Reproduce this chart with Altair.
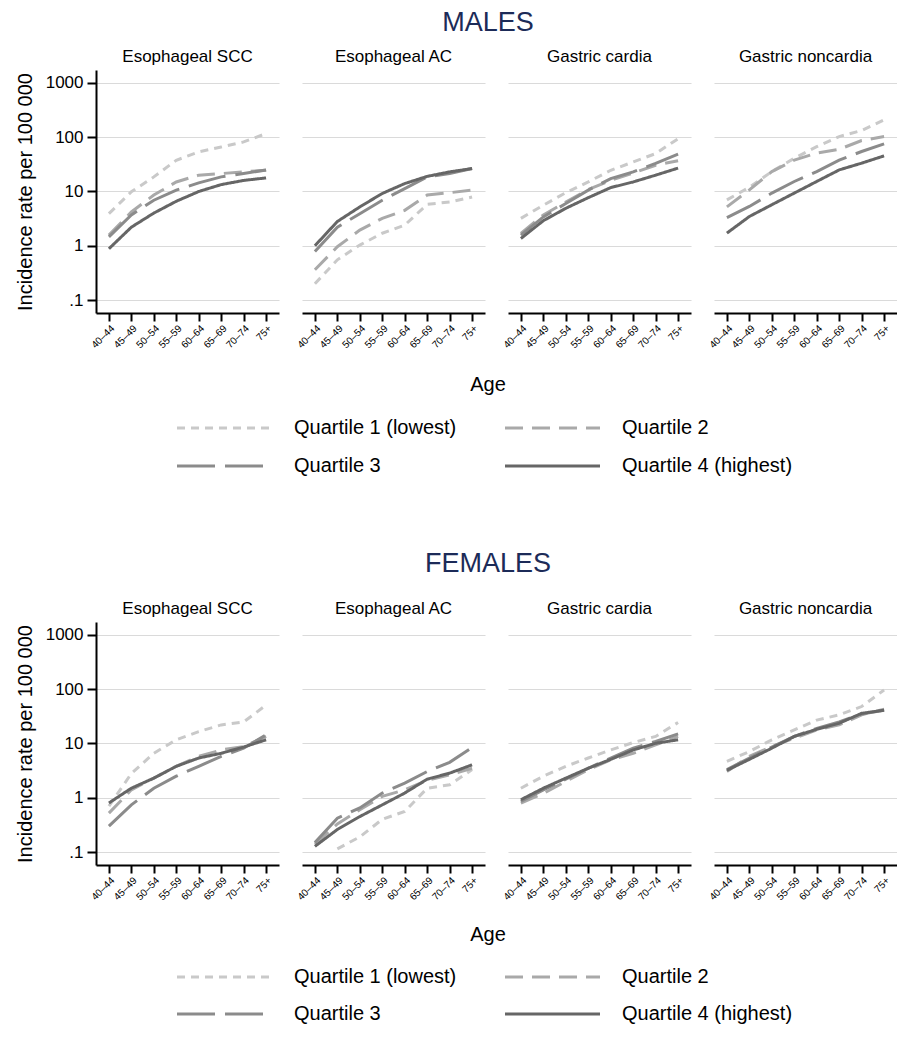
import altair as alt
import pandas as pd

FONT = "Liberation Sans"
NAVY = "#1c2b58"

ages = ["40–44", "45–49", "50–54", "55–59", "60–64", "65–69", "70–74", "75+"]
quartiles = ["Quartile 1 (lowest)", "Quartile 2", "Quartile 3", "Quartile 4 (highest)"]
sites = ["Esophageal SCC", "Esophageal AC", "Gastric cardia", "Gastric noncardia"]
section_titles = ["MALES", "FEMALES"]
y_ticks = [0.1, 1, 10, 100, 1000]

# rows: quartile 1..4, columns: age groups
male_esoph_scc = [
    [3.9, 9.9, 18.6, 37.7, 53.7, 66, 82, 117],
    [1.57, 4.2, 8.6, 15, 20, 21.4, 23, 24.7],
    [1.46, 3.7, 6.9, 10.6, 14.4, 18.6, 21.4, 25],
    [0.88, 2.2, 4.0, 6.6, 10.0, 13.4, 16.0, 17.8],
]
male_esoph_ac = [
    [0.2, 0.55, 1.03, 1.7, 2.4, 5.8, 6.4, 7.9],
    [0.36, 0.96, 1.94, 3.2, 4.5, 8.6, 9.5, 10.6],
    [0.78, 2.2, 3.9, 6.9, 11.3, 18.6, 21.4, 26.5],
    [1.0, 2.8, 5.2, 9.2, 14, 19, 23, 26.5],
]
male_gastric_cardia = [
    [3.2, 5.6, 9.5, 15, 24.6, 35, 50, 94],
    [1.69, 3.7, 6.4, 10.9, 16, 22, 30.5, 37],
    [1.57, 3.4, 6.0, 10.6, 17.3, 23, 33, 48.7],
    [1.36, 2.9, 4.9, 7.7, 11.8, 15, 20, 27],
]
male_gastric_noncardia = [
    [7.0, 12, 23.3, 41, 67, 103, 133, 209],
    [5.2, 10.7, 23.3, 38, 51, 60, 87, 103],
    [3.3, 5.3, 9.35, 15.3, 23.3, 38, 54.6, 75.5],
    [1.71, 3.46, 5.7, 9.35, 15.3, 25, 33.3, 45.4],
]
female_esoph_scc = [
    [0.7, 2.8, 6.6, 11.7, 16.6, 22, 25, 51],
    [0.52, 1.4, 2.3, 3.8, 5.8, 7.6, 8.8, 13.5],
    [0.3, 0.74, 1.5, 2.5, 3.8, 5.8, 8.2, 14.4],
    [0.8, 1.5, 2.3, 3.8, 5.4, 6.6, 8.6, 11.7],
]
female_esoph_ac = [
    [None, 0.114, 0.19, 0.4, 0.56, 1.5, 1.73, 3.3],
    [0.14, 0.33, 0.6, 1.06, 1.4, 2.1, 2.65, 3.5],
    [0.15, 0.42, 0.65, 1.22, 1.86, 3.05, 4.5, 8.4],
    [0.127, 0.26, 0.45, 0.74, 1.22, 2.2, 2.84, 4.05],
]
female_gastric_cardia = [
    [1.5, 2.5, 3.8, 5.4, 7.6, 10.4, 13.5, 24.4],
    [0.8, 1.2, 2.0, 3.3, 5.0, 6.6, 9.4, 13.5],
    [0.86, 1.4, 2.2, 3.5, 5.4, 8.2, 10.9, 15],
    [0.92, 1.5, 2.3, 3.5, 5.1, 7.6, 10.1, 11.7],
]
female_gastric_noncardia = [
    [4.7, 7.1, 11.7, 17.8, 27, 33.7, 48, 97],
    [3.05, 5.8, 8.8, 12.5, 17.8, 22, 33.7, 43],
    [3.3, 5.4, 8.6, 13.5, 19, 25, 35, 41],
    [3.2, 5.1, 8.2, 13.5, 18.3, 23.6, 36, 41],
]

male_panels = [male_esoph_scc, male_esoph_ac, male_gastric_cardia, male_gastric_noncardia]
female_panels = [female_esoph_scc, female_esoph_ac, female_gastric_cardia, female_gastric_noncardia]

# styles
COLORS = ["#c9c9c9", "#a9a9a9", "#8b8b8b", "#666666"]
DASHES = [[8, 6], [18, 9], [38, 10], [1, 0]]
PW, PH, GAP = 183, 243, 23
TOTAL_W = 4 * PW + 3 * GAP
CENTER_X = 392

color_enc = alt.Color("quartile:N", scale=alt.Scale(domain=quartiles, range=COLORS), legend=None)
dash_enc = alt.StrokeDash("quartile:N", scale=alt.Scale(domain=quartiles, range=DASHES), legend=None)


def panel(site, values, first):
    rows = []
    for qi, q in enumerate(quartiles):
        for ai, a in enumerate(ages):
            rows.append({"quartile": q, "qorder": qi, "age": a, "rate": values[qi][ai]})
    df = pd.DataFrame(rows)
    if first:
        yaxis = alt.Axis(values=y_ticks, grid=True, gridColor="#dadada", gridWidth=1.2,
                         domain=True, domainColor="black", domainWidth=2,
                         ticks=True, tickColor="black", tickWidth=2, tickSize=9,
                         labels=True, labelFontSize=17, labelColor="black", labelFont=FONT,
                         labelPadding=4,
                         labelExpr="datum.value < 1 ? '.1' : format(datum.value, 'd')",
                         title="Incidence rate per 100 000", titleFontSize=20,
                         titleFontWeight="normal", titleColor="black", titleFont=FONT,
                         titlePadding=10)
    else:
        yaxis = alt.Axis(values=y_ticks, grid=True, gridColor="#dadada", gridWidth=1.2,
                         domain=False, ticks=False, labels=False, title=None)
    xaxis = alt.Axis(labelAngle=-45, labelFontSize=10, labelColor="black", labelFont=FONT,
                     labelPadding=2, domainColor="black", domainWidth=2,
                     tickColor="black", tickWidth=2, tickSize=8, grid=False, title=None)
    return alt.Chart(df).mark_line(strokeWidth=3, clip=True).encode(
        x=alt.X("age:O", sort=ages, scale=alt.Scale(type="point", padding=0.575), axis=xaxis),
        y=alt.Y("rate:Q", scale=alt.Scale(type="log", domain=[0.0576, 1736], nice=False, zero=False),
                axis=yaxis),
        color=color_enc,
        strokeDash=dash_enc,
        order="qorder:Q",
    ).properties(
        width=PW, height=PH,
        title=alt.TitleParams(site, fontSize=17, fontWeight="normal", font=FONT, color="black",
                              anchor="middle", frame="group", offset=4),
    )


def panel_row(panels):
    return alt.hconcat(*[panel(s, v, i == 0) for i, (s, v) in enumerate(zip(sites, panels))],
                       spacing=GAP, bounds="flush").resolve_scale(x="independent", y="independent")


def header(text, height, baseline_y):
    return alt.Chart(pd.DataFrame({"t": [text]})).mark_text(
        fontSize=27, font=FONT, color=NAVY, align="center", baseline="alphabetic"
    ).encode(x=alt.value(CENTER_X), y=alt.value(baseline_y), text="t:N").properties(
        width=TOTAL_W, height=height)


def legend_block(height, age_y, row0, row1):
    base = alt.Chart(pd.DataFrame({"quartile": quartiles})).transform_window(
        idx="row_number()"
    ).transform_calculate(
        col="(datum.idx - 1) % 2", row="floor((datum.idx - 1) / 2)"
    )
    xe = alt.X("col:Q", scale=alt.Scale(domain=[0, 1], range=[81, 409]), axis=None)
    ye = alt.Y("row:Q", scale=alt.Scale(domain=[0, 1], range=[row0, row1]), axis=None)
    rules = base.mark_rule(strokeWidth=3, x2Offset=95).encode(
        x=xe, x2="col:Q", y=ye, color=color_enc, strokeDash=dash_enc)
    labels = base.mark_text(fontSize=20, font=FONT, color="black", align="left",
                            baseline="middle", dx=117).encode(x=xe, y=ye, text="quartile:N")
    age = alt.Chart(pd.DataFrame({"t": ["Age"]})).mark_text(
        fontSize=20, font=FONT, color="black", align="center", baseline="alphabetic"
    ).encode(x=alt.value(CENTER_X), y=alt.value(age_y), text="t:N")
    return alt.layer(rules, labels, age).properties(width=TOTAL_W, height=height)


chart = alt.vconcat(
    header(section_titles[0], 40, 23),
    panel_row(male_panels),
    legend_block(190, 41, 78, 116),
    header(section_titles[1], 60, 32),
    panel_row(female_panels),
    legend_block(133, 39, 75, 112),
    spacing=0,
).resolve_scale(x="independent", y="independent").properties(
    padding={"left": 7, "top": 0, "right": 0, "bottom": 0}
).configure(font=FONT).configure_view(strokeWidth=0)

chart.save("out.html", embed_options={"renderer": "svg", "actions": False})
